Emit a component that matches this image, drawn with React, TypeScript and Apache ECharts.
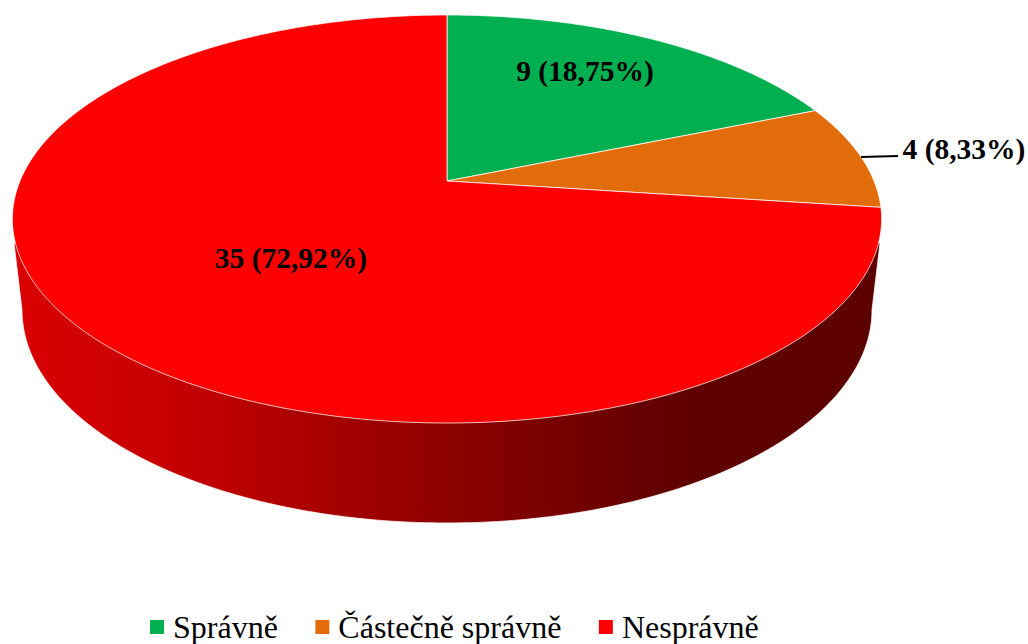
import React, { useEffect, useRef } from "react";
import * as echarts from "echarts";

const categories = ["Správně", "Částečně správně", "Nesprávně"];
const sliceValues = [9, 4, 35];
const percentLabels = ["18,75", "8,33", "72,92"];

const sliceColors = ["#00B050", "#E36C0A", "#FF0000"];
const labelAnchors = [
  { x: 585, y: 71 },
  { x: 964, y: 149 },
  { x: 291, y: 258 },
];

// Perspective projection of the pie's top disc onto the page
const APEX_X = 447;
const APEX_Y = 181;
const PERSP = 0.1863;
const RADIUS = 427;
const Y_SCALE = -163.2;
const EDGE = "rgba(255,255,255,0.75)";
const total = sliceValues.reduce((a, b) => a + b, 0);

function project(turn: number): number[] {
  const t = turn * 2 * Math.PI;
  const u = Math.sin(t);
  const v = Math.cos(t);
  const d = 1 + PERSP * v;
  return [APEX_X + (RADIUS * u) / d, (Y_SCALE * v + APEX_Y) / d];
}

function wallPoints(): number[][] {
  const pts: number[][] = [];
  const cx = 447;
  const cy = 310;
  const rx = 425;
  const ry = 213;
  pts.push([880, 243]);
  for (let a = 0; a <= 180; a += 1) {
    const r = (a * Math.PI) / 180;
    pts.push([cx + rx * Math.cos(r), cy + ry * Math.sin(r)]);
  }
  pts.push([14, 243]);
  pts.push([447, 230]);
  return pts;
}

function makeSeries(index: number) {
  const start = sliceValues.slice(0, index).reduce((a, b) => a + b, 0) / total;
  return {
    type: "custom",
    name: categories[index],
    coordinateSystem: "none",
    silent: true,
    itemStyle: { color: sliceColors[index] },
    data: [[sliceValues[index]]],
    renderItem: (_p: unknown, api: any) => {
      const value = api.value(0);
      const end = start + value / total;
      const pts: number[][] = [[APEX_X, APEX_Y]];
      const steps = Math.max(2, Math.ceil((end - start) * 720));
      for (let i = 0; i <= steps; i++) {
        pts.push(project(start + ((end - start) * i) / steps));
      }
      const children: any[] = [];
      if (index === 2) {
        children.push({
          type: "polygon",
          shape: { points: wallPoints() },
          style: {
            stroke: EDGE,
            lineWidth: 1,
            fill: {
              type: "linear",
              x: 0,
              y: 0,
              x2: 1,
              y2: 0,
              colorStops: [
                { offset: 0, color: "#DA0000" },
                { offset: 0.2, color: "#C40000" },
                { offset: 0.5, color: "#8E0000" },
                { offset: 0.75, color: "#620000" },
                { offset: 1, color: "#5C0000" },
              ],
            },
          },
        });
      }
      children.push({
        type: "polygon",
        shape: { points: pts },
        style: { fill: sliceColors[index], stroke: EDGE, lineWidth: 1 },
      });
      if (index === 1) {
        children.push({
          type: "line",
          shape: { x1: 861, y1: 157, x2: 898, y2: 156 },
          style: { stroke: "#000000", lineWidth: 2 },
        });
      }
      children.push({
        type: "text",
        style: {
          text: `${value} (${percentLabels[index]}%)`,
          x: labelAnchors[index].x,
          y: labelAnchors[index].y,
          align: "center",
          verticalAlign: "middle",
          font: 'bold 29.5px "Liberation Serif"',
          fill: "#000000",
        },
      });
      return { type: "group", children };
    },
  };
}

export default function App() {
  const ref = useRef<HTMLDivElement>(null);
  useEffect(() => {
    const chart = echarts.init(ref.current!, undefined, { renderer: "svg" });
    chart.setOption({
      animation: false,
      legend: {
        data: categories,
        left: 145,
        top: 606,
        icon: "rect",
        itemWidth: 14,
        itemHeight: 14,
        itemGap: 37.5,
        selectedMode: false,
        textStyle: {
          fontFamily: '"Liberation Serif"',
          fontSize: 32,
          color: "#000000",
          padding: [0, 0, 0, 4],
        },
      },
      series: sliceValues.map((_, i) => makeSeries(i)),
    });
    return () => chart.dispose();
  }, []);
  return (
    <div
      ref={ref}
      style={{ position: "absolute", left: 0, top: 0, width: 1028, height: 644 }}
    />
  );
}
